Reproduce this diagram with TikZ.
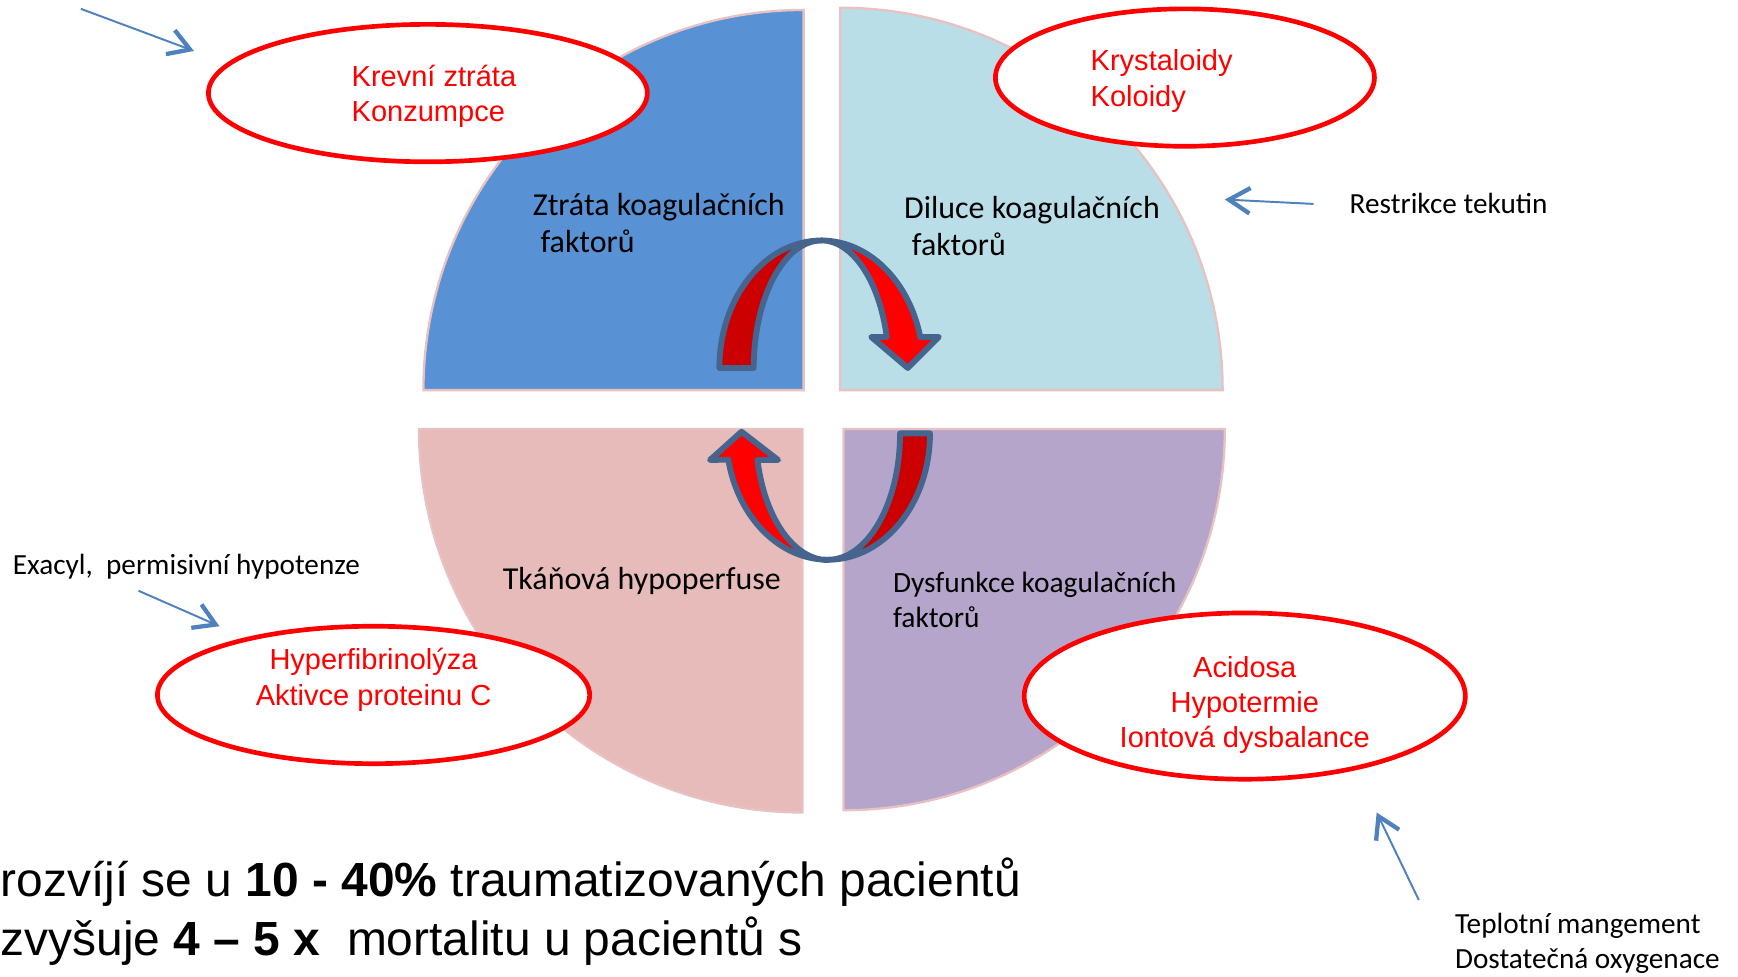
\documentclass[tikz,border=0pt]{standalone}
\usepackage{fontspec}
\setmainfont{Carlito}
\newfontfamily\arialfont{Liberation Sans}
\usetikzlibrary{arrows.meta,positioning,shapes.geometric}
\definecolor{QBlue}{HTML}{5891D4}
\definecolor{QCyan}{HTML}{BADEE8}
\definecolor{QPink}{HTML}{E6BBBA}
\definecolor{QPurple}{HTML}{B5A5CA}
\definecolor{QEdge}{HTML}{E8C2C2}
\definecolor{Alarm}{HTML}{FF0000}
\definecolor{DarkRed}{HTML}{CC0000}
\definecolor{Slate}{HTML}{46658E}
\definecolor{Hint}{HTML}{4F81BD}

\begin{document}
\begin{tikzpicture}[
  quad/.style={fill=#1,draw=QEdge,line width=0.6pt},
  cause/.style={ellipse,draw=Alarm,line width=1.2pt,fill=white,inner sep=0pt,text=Alarm,font=\arialfont\fontsize{7.45}{9.1}\selectfont},
  effect/.style={anchor=west,inner sep=0pt,align=left,font=\fontsize{8.2}{9.6}\selectfont},
  note/.style={anchor=west,inner sep=0pt,align=left,font=\fontsize{7.5}{9}\selectfont},
  stat/.style={anchor=base west,inner sep=0pt,font=\arialfont\fontsize{12.3}{14.8}\selectfont},
  hint/.style={draw=Hint,line width=0.5pt,-{Straight Barb[length=1.9mm,width=2.3mm,line width=1.1pt]}},
  curl/.style={draw=Slate,line width=1.5pt,line join=round}
]
\useasboundingbox (0,0) rectangle (15.68,8.81);
\path[quad=QBlue] (7.25,5.29) -- (3.82,5.29) arc[start angle=180,end angle=90,radius=3.43] -- cycle;
\path[quad=QCyan] (7.58,5.29) -- (11.03,5.29) arc[start angle=0,end angle=90,radius=3.45] -- cycle;
\path[quad=QPink] (7.24,4.94) -- (3.78,4.94) arc[start angle=180,end angle=270,radius=3.46] -- cycle;
\path[quad=QPurple] (7.61,4.94) -- (11.05,4.94) arc[start angle=0,end angle=-90,radius=3.44] -- cycle;

\path[curl,fill=DarkRed] (6.49,5.49) arc[start angle=180,end angle=90,x radius=0.92,y radius=1.15]
  arc[start angle=90,end angle=180,x radius=0.61,y radius=1.15] -- cycle;
\path[curl,fill=Alarm] (7.41,6.64) arc[start angle=90,end angle=14,x radius=0.92,y radius=1.15]
  -- (8.47,5.77) -- (8.19,5.49) -- (7.86,5.77) -- (8.00,5.77)
  arc[start angle=14,end angle=90,x radius=0.61,y radius=1.15] -- cycle;
\path[curl,fill=DarkRed] (8.39,4.90) arc[start angle=0,end angle=-90,x radius=0.92,y radius=1.14]
  arc[start angle=-90,end angle=0,x radius=0.65,y radius=1.14] -- cycle;
\path[curl,fill=Alarm] (7.47,3.76) arc[start angle=-90,end angle=-168,x radius=0.92,y radius=1.14]
  -- (6.405,4.66) -- (6.69,4.915) -- (7.02,4.66) -- (6.834,4.66)
  arc[start angle=-168,end angle=-90,x radius=0.65,y radius=1.14] -- cycle;

\node[cause,minimum width=3.96cm,minimum height=1.24cm,align=left] (loss) at (3.86,7.97) {\rule{0pt}{7.2pt}\hspace*{1.1mm}Krevní ztráta\\\hspace*{1.1mm}Konzumpce};
\node[cause,minimum width=3.42cm,minimum height=1.24cm,text width=1.70cm,align=left] (fluids) at (10.69,8.11) {\rule{0pt}{7.2pt}Krystaloidy\\Koloidy};
\node[cause,minimum width=3.90cm,minimum height=1.24cm,text depth=0.33cm,align=center] (fibrin) at (3.37,2.54) {Hyperfibrinolýza\\Aktivce proteinu C};
\node[cause,minimum width=3.98cm,minimum height=1.50cm,align=center] (acid) at (11.23,2.53) {\rule{0pt}{10pt}Acidosa\\Hypotermie\\Iontová dysbalance};

\node[effect] (lossfx) at (4.80,6.80) {Ztráta koagulačních\\\hspace*{0.7mm}faktorů};
\node[effect] (dilfx) at (8.15,6.77) {Diluce koagulačních\\\hspace*{0.7mm}faktorů};
\node[effect] (perfx) at (4.53,3.57) {Tkáňová hypoperfuse};
\node[note,font=\fontsize{7.55}{9}\selectfont] (dysfx) at (8.05,3.40) {Dysfunkce koagulačních\\faktorů};
\node[note] (restr) at (12.17,6.97) {Restrikce tekutin};
\node[note] (exacyl) at (0.11,3.70) {Exacyl,~ permisivní hypotenze};
\node[note] (thermo) at (13.12,0.30) {Teplotní mangement\\Dostatečná oxygenace};

\node[stat] (stat1) at (0,0.72) {rozvíjí se u \textbf{10 - 40\%} traumatizovaných pacientů};
\node[stat] (stat2) at (0,0.19) {zvyšuje \textbf{4 – 5 x}~ mortalitu u pacientů s};

\coordinate (h1a) at (0.73,8.73);
\coordinate (h1b) at (1.75,8.35);
\coordinate (h2b) at (11.05,7.01);
\coordinate (h3a) at (1.25,3.48);
\coordinate (h3b) at (1.98,3.16);
\coordinate (h4a) at (12.80,0.69);
\coordinate (h4b) at (12.42,1.48);
\draw[hint] (h1a) -- (h1b);
\draw[hint] ([xshift=-3.2mm]restr.west) -- (h2b);
\draw[hint] (h3a) -- (h3b);
\draw[hint] (h4a) -- (h4b);
\end{tikzpicture}
\end{document}
